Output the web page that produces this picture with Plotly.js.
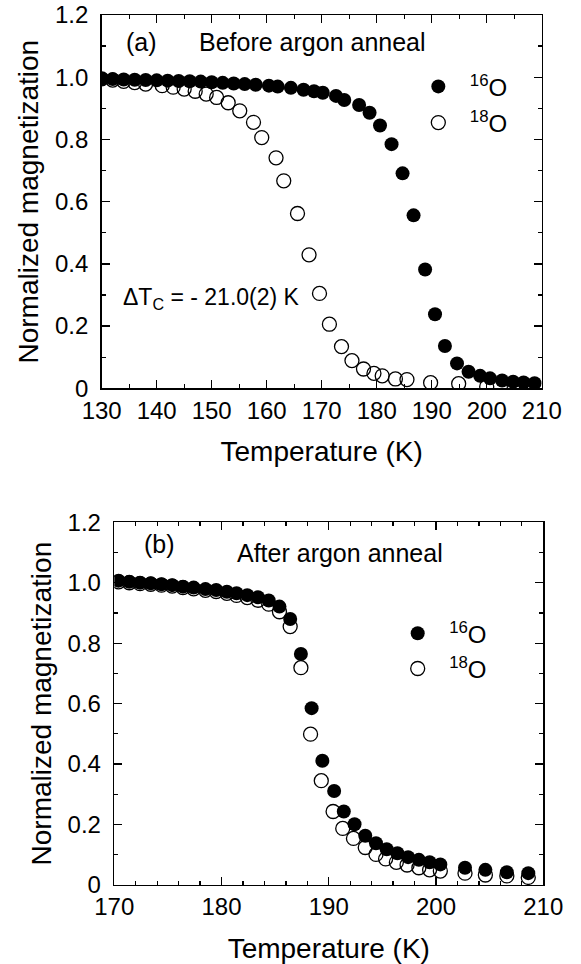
<!DOCTYPE html>
<html>
<head>
<meta charset="utf-8">
<script src="https://cdn.plot.ly/plotly-3.0.1.min.js"></script>
<style>html,body{margin:0;padding:0;background:#fff;}#chart{width:581px;height:964px;}</style>
</head>
<body>
<div id="chart"></div>
<script>
// Panel (a): before argon anneal
var T16a = [130,132,134,136,138,140,142,144,146,148,150,152,154,156,158,160.4,162,164.4,166.7,168.6,170.2,172.6,174.1,176.8,178.7,180.6,182.7,184.7,186.7,188.8,190.6,192.4,194.6,196.7,198.8,200.6,202.8,204.8,206.7,208.7];
var M16a = [0.995,0.994,0.993,0.992,0.991,0.990,0.989,0.988,0.987,0.986,0.984,0.982,0.980,0.978,0.976,0.973,0.970,0.966,0.960,0.955,0.950,0.940,0.927,0.911,0.886,0.845,0.785,0.691,0.556,0.382,0.238,0.136,0.080,0.053,0.040,0.032,0.025,0.021,0.019,0.016];
var T18a = [130,132,134,136,138,141,143,145,147,149,150.9,153,155.1,157.6,159.1,161.7,163.1,165.6,167.7,169.6,171.4,173.6,175.5,177.6,179.5,181,183.4,185.5,189.8,194.9,200,205];
var M18a = [0.995,0.991,0.987,0.983,0.978,0.973,0.968,0.962,0.955,0.946,0.935,0.918,0.892,0.855,0.806,0.741,0.667,0.562,0.429,0.305,0.206,0.134,0.089,0.062,0.048,0.040,0.030,0.028,0.018,0.015,0.006,0.005];
// Panel (b): after argon anneal
var T16b = [170.4,171.4,172.4,173.4,174.4,175.4,176.4,177.4,178.5,179.5,180.5,181.4,182.4,183.4,184.4,185.4,186.4,187.4,188.4,189.4,190.5,191.4,192.4,193.4,194.4,195.4,196.4,197.4,198.4,199.4,200.4,202.7,204.6,206.6,208.6];
var M16b = [1.007,1.003,1.000,0.998,0.995,0.992,0.987,0.984,0.979,0.976,0.970,0.965,0.959,0.952,0.941,0.921,0.880,0.764,0.585,0.411,0.311,0.243,0.201,0.163,0.138,0.118,0.105,0.092,0.083,0.075,0.068,0.057,0.050,0.042,0.039];
var T18b = [170.4,171.4,172.4,173.4,174.4,175.4,176.4,177.4,178.5,179.5,180.5,181.4,182.4,183.4,184.4,185.4,186.4,187.4,188.3,189.3,190.4,191.3,192.3,193.4,194.4,195.3,196.3,197.3,198.4,199.4,200.4,202.7,204.6,206.6,208.6];
var M18b = [1.003,1.000,0.997,0.995,0.992,0.989,0.984,0.980,0.975,0.971,0.965,0.958,0.951,0.942,0.929,0.904,0.855,0.719,0.499,0.345,0.243,0.187,0.154,0.124,0.101,0.086,0.075,0.066,0.057,0.050,0.046,0.039,0.033,0.030,0.025];

var xTicksA = [130,140,150,160,170,180,190,200,210];
var xTicksB = [170,180,190,200,210];
var yTickVals = [0,0.2,0.4,0.6,0.8,1.0,1.2];
var yTickText = ['0','0.2','0.4','0.6','0.8','1.0','1.2'];
var seriesNames = ['\u00a0\u2009<sup>16</sup>O','\u00a0\u2009<sup>18</sup>O'];

var FONT = 'Liberation Sans, Arial, Helvetica, sans-serif';

function openTrace(x, y, xa, ya, leg, grp) {
  return {x:x, y:y, xaxis:xa, yaxis:ya, type:'scatter', mode:'markers', name:seriesNames[1],
    legend:leg, legendrank:2, legendgroup:grp,
    marker:{symbol:'circle-open', size:14, color:'#000', line:{color:'#000', width:1.3}}};
}
function fullTrace(x, y, xa, ya, leg, grp) {
  return {x:x, y:y, xaxis:xa, yaxis:ya, type:'scatter', mode:'markers', name:seriesNames[0],
    legend:leg, legendrank:1, legendgroup:grp,
    marker:{symbol:'circle', size:14, color:'#000', line:{color:'#000', width:0}}};
}

var data = [
  openTrace(T18a, M18a, 'x', 'y', 'legend', 'a18'),
  fullTrace(T16a, M16a, 'x', 'y', 'legend', 'a16'),
  openTrace(T18b, M18b, 'x2', 'y2', 'legend2', 'b18'),
  fullTrace(T16b, M16b, 'x2', 'y2', 'legend2', 'b16')
];

function xAxis(domain, range, ticks, dtick, anchor) {
  return {domain:domain, range:range, anchor:anchor,
    tickvals:ticks, ticktext:ticks.map(String),
    ticks:'inside', ticklen:8, tickwidth:1.3, tickcolor:'#000',
    minor:{dtick:dtick, ticks:'inside', ticklen:4, tickwidth:1.3, tickcolor:'#000', showgrid:false},
    showline:true, linecolor:'#000', linewidth:1.5, mirror:'ticks',
    showgrid:false, zeroline:false,
    tickfont:{family:FONT, size:24, color:'#000'},
    title:{text:'Temperature (K)', font:{family:FONT, size:28, color:'#000'}, standoff:19}};
}
function yAxis(domain, anchor) {
  return {domain:domain, range:[0,1.2], anchor:anchor,
    tickvals:yTickVals, ticktext:yTickText,
    ticks:'inside', ticklen:8, tickwidth:1.3, tickcolor:'#000',
    minor:{dtick:0.1, ticks:'inside', ticklen:4, tickwidth:1.3, tickcolor:'#000', showgrid:false},
    showline:true, linecolor:'#000', linewidth:1.5, mirror:'ticks',
    showgrid:false, zeroline:false,
    tickfont:{family:FONT, size:24, color:'#000'},
    ticklabelstandoff:7,
    title:{text:'Normalized magnetization', font:{family:FONT, size:28, color:'#000'}, standoff:8}};
}

var layout = {
  width:581, height:964,
  margin:{l:0, r:0, t:0, b:0},
  paper_bgcolor:'#fff', plot_bgcolor:'#fff',
  font:{family:FONT, color:'#000'},
  xaxis: xAxis([0.1750,0.9324],[130,210],xTicksA,5,'y'),
  yaxis: yAxis([0.5972,0.9844],'x'),
  xaxis2: xAxis([0.1967,0.9351],[170,210],xTicksB,2,'y2'),
  yaxis2: yAxis([0.0820,0.4582],'x2'),
  legend:{x:0.720, y:0.9333, xanchor:'left', yanchor:'top', bgcolor:'rgba(0,0,0,0)',
    font:{family:FONT, size:24, color:'#000'}, tracegroupgap:2},
  legend2:{x:0.6845, y:0.366, xanchor:'left', yanchor:'top', bgcolor:'rgba(0,0,0,0)',
    font:{family:FONT, size:24, color:'#000'}, tracegroupgap:1},
  showlegend:true,
  annotations:[
    {xref:'x', yref:'y', x:137.2, y:1.113, text:'(a)', showarrow:false, xanchor:'center', yanchor:'middle',
     font:{family:FONT, size:25, color:'#000'}},
    {xref:'x', yref:'y', x:147.4, y:1.113, text:'Before argon anneal', showarrow:false, xanchor:'left', yanchor:'middle',
     font:{family:FONT, size:25, color:'#000'}},
    {xref:'x', yref:'y', x:133.5, y:0.29, text:'\u0394T<sub>C</sub> = - 21.0(2) K', showarrow:false, xanchor:'left', yanchor:'middle',
     font:{family:FONT, size:23, color:'#000'}},
    {xref:'x2', yref:'y2', x:174.2, y:1.128, text:'(b)', showarrow:false, xanchor:'center', yanchor:'middle',
     font:{family:FONT, size:25, color:'#000'}},
    {xref:'x2', yref:'y2', x:181.25, y:1.098, text:'After argon anneal', showarrow:false, xanchor:'left', yanchor:'middle',
     font:{family:FONT, size:25, color:'#000'}}
  ]
};

Plotly.newPlot('chart', data, layout, {displayModeBar:false, staticPlot:true});
</script>
</body>
</html>
